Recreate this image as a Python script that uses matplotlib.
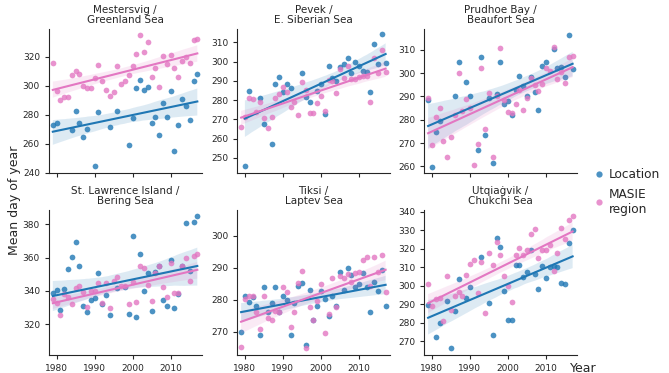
import numpy as np
import matplotlib
matplotlib.use("Agg")
import matplotlib.pyplot as plt
import seaborn as sns
from matplotlib.lines import Line2D

nan = np.nan
years = np.arange(1979, 2018)

titles = ["Mestersvig /\nGreenland Sea", "Pevek /\nE. Siberian Sea",
          "Prudhoe Bay /\nBeaufort Sea", "St. Lawrence Island /\nBering Sea",
          "Tiksi /\nLaptev Sea", "Utqiaġvik /\nChukchi Sea"]

# Location (station) series, one value per year 1979-2017 (nan = missing)
loc_mestersvig = [272.9, 274.5, nan, nan, nan, 269.4, 282.8, 274.5, 264.4, 270.1,
                  nan, 244.6, 281.8, nan, nan, 271.3, nan, 282.8, nan, nan,
                  259.1, 277.5, 298.6, 303.9, 297.0, 299.3, 274.0, 278.6, 266.0, 287.8,
                  278.2, 296.3, 255.2, 272.9, 290.6, 286.0, 276.3, 303.2, 308.0]
loc_pevek = [nan, 245.7, 285.0, nan, nan, 281.2, 267.5, nan, 257.1, 288.2,
             292.1, 284.5, 288.2, 286.1, nan, nan, 294.2, 281.6, 279.1, nan,
             284.7, 288.5, 272.9, 298.0, 291.6, 290.0, 297.3, 298.7, 301.7, 294.2,
             299.8, 297.9, 295.1, 294.4, 284.5, 309.1, 298.7, 314.2, 299.4]
loc_prudhoe = [288.4, 259.7, 274.7, 279.5, nan, nan, nan, 290.3, 304.8, nan,
               296.1, 290.0, nan, 266.9, 307.1, 273.6, 289.5, 261.6, 291.2, 304.8,
               286.7, 288.0, 282.0, 292.8, 298.8, 294.5, 290.2, 298.2, 291.8, 284.4,
               303.1, 305.0, nan, 310.6, 302.1, 302.5, 298.2, 316.5, 301.7]
loc_stlawrence = [339.0, 340.8, 328.8, 341.2, 353.0, 360.2, 369.6, 355.2, 331.0, 327.2,
                  334.8, 336.0, 350.6, 332.2, 337.6, 325.6, nan, 342.0, nan, 342.6,
                  326.2, 373.0, 324.2, 362.2, 340.0, 350.6, 327.8, 351.2, 355.2, 334.6,
                  331.2, 358.6, 329.8, 338.0, 355.2, 380.6, 352.0, 381.2, 385.0]
loc_tiksi = [270.0, 281.1, 279.4, 280.9, 278.0, 269.1, 283.8, 276.0, 278.8, 283.8,
             276.0, 281.1, 280.0, 269.1, 279.0, 284.2, 285.1, 265.7, 283.0, 273.6,
             278.1, 282.7, 280.1, 274.9, 281.0, 278.0, 288.5, 283.1, 290.0, 287.7,
             283.8, 285.0, 288.2, 283.8, 276.0, 285.4, 282.7, 289.4, 278.1]
loc_utqiagvik = [289.8, nan, 272.5, 279.7, nan, 291.8, 266.2, 286.4, 303.6, nan,
                 293.1, 299.0, nan, nan, 315.5, nan, 290.4, 273.2, 325.9, 320.7,
                 297.1, 281.5, 281.5, 311.0, 311.3, 304.8, 307.5, 319.1, 306.3, 298.3,
                 310.4, 303.9, 309.9, 310.6, 310.2, 301.4, 301.0, 323.2, 330.1]

# MASIE region series, 1979-2017
masie_greenland = [315.4, 296.3, 290.1, 292.4, 292.4, 307.4, 310.3, 308.3, 300.0, 298.6,
                   298.6, 305.3, 314.3, 303.4, 296.6, 293.1, 295.6, 313.6, 300.9, 303.0,
                   307.1, 313.6, 321.8, 335.2, 323.4, 330.3, 305.7, 312.2, 298.9, 320.5,
                   314.7, 320.9, 312.4, 305.7, 317.2, 319.5, 315.4, 331.5, 332.2]
masie_esiberian = [266.3, 271.2, 281.0, 280.5, 273.8, 278.8, 270.6, 265.8, 271.3, 281.0,
                   283.1, 286.6, 284.3, 276.5, 279.0, 272.4, 289.2, 285.4, 273.2, 273.2,
                   278.6, 282.1, 274.3, 290.6, 290.2, 283.8, 296.0, 291.4, 298.0, 291.1,
                   291.1, 291.8, 292.5, 292.7, 279.3, 302.0, 293.9, 306.2, 294.9]
masie_beaufort = [289.2, 269.0, 281.3, 284.9, 270.9, 264.2, 272.6, 282.1, 300.2, 283.7,
                  289.0, 284.9, 260.4, 269.5, 302.1, 276.0, 291.3, 264.0, 290.2, 310.7,
                  288.7, 283.4, 282.7, 286.7, 293.0, 284.1, 289.3, 298.1, 294.9, 292.5,
                  295.2, 302.1, 301.1, 311.4, 297.5, 300.7, 295.9, 306.8, 307.4]
masie_bering = [335.0, 333.0, 325.6, 338.0, 336.2, 332.0, 341.6, 343.0, 339.2, 330.6,
                340.0, 340.2, 344.6, 332.6, 345.0, 329.6, 346.2, 348.2, 343.0, 342.8,
                332.0, 345.2, 333.2, 355.0, 353.6, 343.6, 334.0, 350.6, 355.0, 342.6,
                336.4, 356.6, 339.0, 339.0, 355.0, 359.6, 346.0, 360.8, 362.0]
masie_laptev = [265.3, 280.1, 281.1, 281.1, 276.0, 270.8, 281.1, 274.2, 273.6, 276.5,
                276.0, 284.1, 282.5, 271.3, 276.0, 285.1, 289.0, 264.9, 277.8, 273.6,
                279.6, 284.9, 269.7, 275.5, 286.9, 277.8, 287.5, 286.7, 287.9, 285.6,
                288.4, 288.5, 292.4, 293.3, 284.3, 293.4, 288.5, 293.9, 282.5]
masie_chukchi = [300.9, 288.8, 292.6, 293.5, 281.0, 305.2, 287.1, 294.4, 296.5, 294.5,
                 305.9, 311.7, 313.7, 296.0, 312.9, 285.3, 317.4, 311.1, 323.4, 316.5,
                 305.2, 300.0, 291.3, 316.7, 320.2, 316.5, 319.1, 328.1, 330.6, 314.9,
                 319.3, 319.3, 322.0, 307.9, 317.4, 331.3, 325.2, 335.3, 337.5]

loc_series = [loc_mestersvig, loc_pevek, loc_prudhoe, loc_stlawrence, loc_tiksi, loc_utqiagvik]
masie_series = [masie_greenland, masie_esiberian, masie_beaufort, masie_bering,
                masie_laptev, masie_chukchi]

ylims = [(239.5, 339), (242, 317), (257, 319), (301.6, 388.6), (262.7, 308), (262.5, 340.9)]
yticks = [[240, 260, 280, 300, 320], [250, 260, 270, 280, 290, 300, 310],
          [260, 270, 280, 290, 300, 310], [320, 340, 360, 380],
          [270, 280, 290, 300], [270, 280, 290, 300, 310, 320, 330, 340]]

BLUE = '#1f77b4'
PINK = '#e377c2'
TXT = '#262626'

fig = plt.figure(figsize=(6.69, 3.73), dpi=100, facecolor='white')

lefts = [49, 237.3, 424.3]
W, H = 669, 373
axes = []
for i in range(6):
    r, c = divmod(i, 3)
    top = 29 if r == 0 else 210
    bot = 173.3 if r == 0 else 355
    ax = fig.add_axes([lefts[c] / W, 1 - bot / H, 152.5 / W, (bot - top) / H])
    axes.append(ax)

for i, ax in enumerate(axes):
    for vals, col in [(loc_series[i], BLUE), (masie_series[i], PINK)]:
        sns.regplot(x=years, y=np.array(vals, dtype=float), ax=ax, color=col,
                    truncate=True, seed=1,
                    scatter_kws={'s': 17, 'alpha': 0.8, 'linewidths': 0},
                    line_kws={'lw': 1.5})
    ax.set_xlim(1978, 2018.1)
    ax.set_ylim(*ylims[i])
    ax.set_yticks(yticks[i])
    ax.set_xticks([1980, 1990, 2000, 2010])
    if i < 3:
        ax.set_xticklabels([])
    ax.set_xlabel('')
    ax.set_ylabel('')
    ax.set_title(titles[i], fontsize=7.5, color=TXT, pad=4, linespacing=1.1)
    ax.tick_params(labelsize=6.5, colors=TXT, length=3, width=0.8)
    ax.spines[['top', 'right']].set_visible(False)
    for s in ['left', 'bottom']:
        ax.spines[s].set_color(TXT)
        ax.spines[s].set_linewidth(0.8)

fig.text(15 / W, 1 - 200 / H, 'Mean day of year', rotation=90, ha='center',
         va='center', fontsize=9, color=TXT)
fig.text(583 / W, 1 - 368 / H, 'Year', ha='center', va='center', fontsize=9, color=TXT)

handles = [Line2D([], [], marker='o', ls='', color=BLUE, alpha=0.8, markersize=4.5,
                  markeredgewidth=0),
           Line2D([], [], marker='o', ls='', color=PINK, alpha=0.8, markersize=4.5,
                  markeredgewidth=0)]
fig.legend(handles, ['Location', 'MASIE\nregion'], loc='center left',
           bbox_to_anchor=(581 / W, 1 - 192 / H), frameon=False, fontsize=8.7,
           handletextpad=0.2, handlelength=1.2, labelcolor=TXT)

fig.savefig('out.png', dpi=100, facecolor='white')
